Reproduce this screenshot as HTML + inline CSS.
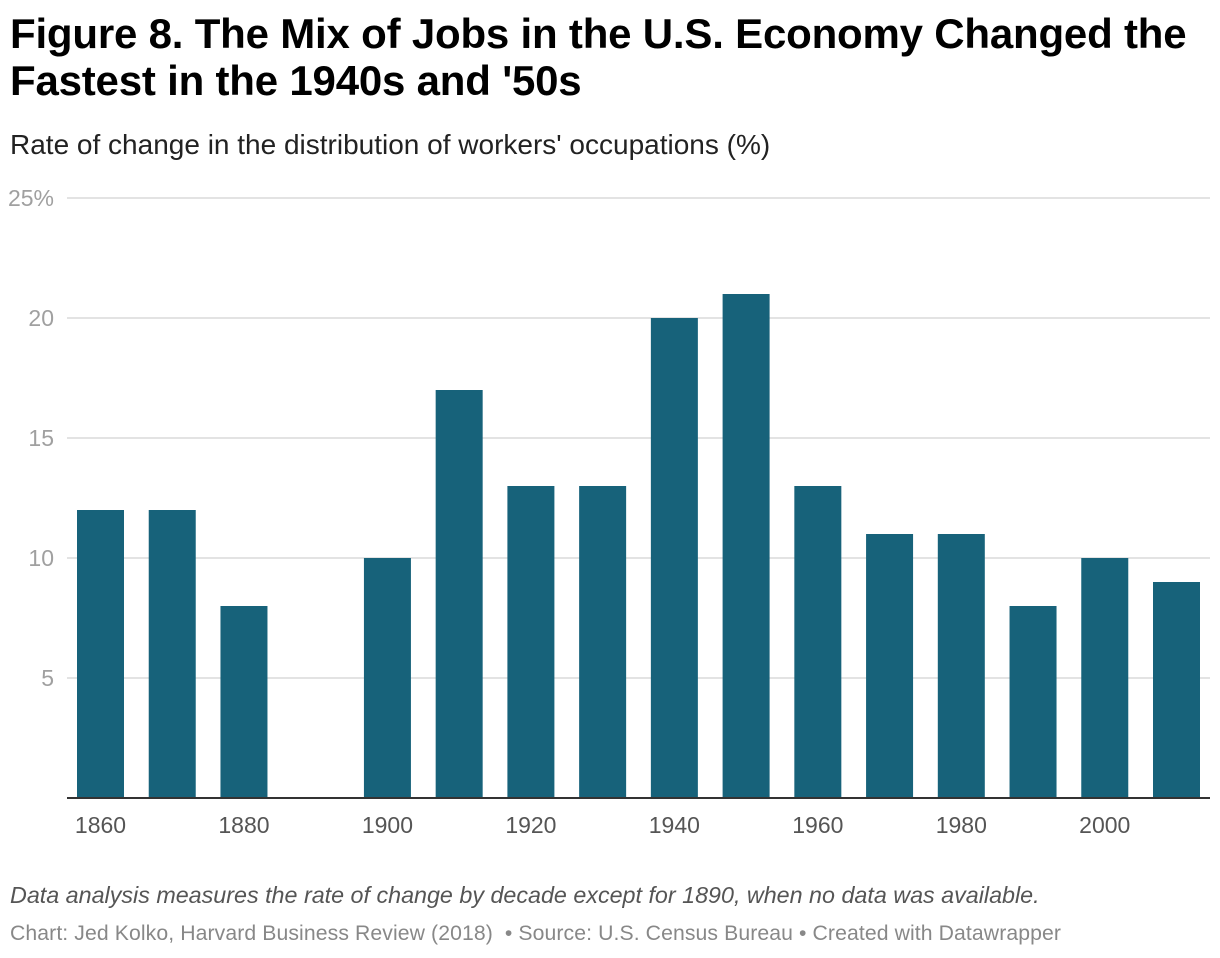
<!DOCTYPE html>
<html><head><meta charset="utf-8">
<style>
body{margin:0;background:#fff;width:1220px;height:958px;overflow:hidden;font-family:"Liberation Sans",sans-serif;}
#title{position:absolute;left:10px;top:10px;font-size:42px;font-weight:bold;line-height:47px;color:#000;margin:0;letter-spacing:-0.2px}
#sub{position:absolute;left:10px;top:129px;font-size:28px;color:#222}
#note{position:absolute;left:10px;top:882px;font-size:23.3px;font-style:italic;color:#555}
#cred{position:absolute;left:10px;top:922px;font-size:21.2px;color:#888;letter-spacing:0.1px}
svg{position:absolute;left:0;top:0}
</style></head><body>
<h1 id="title">Figure 8. The Mix of Jobs in the U.S. Economy Changed the<br>Fastest in the 1940s and '50s</h1>
<div id="sub">Rate of change in the distribution of workers' occupations (%)</div>
<svg id="chart" width="1220" height="958"></svg>
<div id="note">Data analysis measures the rate of change by decade except for 1890, when no data was available.</div>
<div id="cred">Chart: Jed Kolko, Harvard Business Review (2018) &nbsp;• Source: U.S. Census Bureau • Created with Datawrapper</div>
<script>
const years=[1860,1870,1880,1890,1900,1910,1920,1930,1940,1950,1960,1970,1980,1990,2000,2010];
const values=[12,12,8,null,10,17,13,13,20,21,13,11,11,8,10,9];
const yTicks=[5,10,15,20,25];
const xTickLabels=[1860,1880,1900,1920,1940,1960,1980,2000];
const svg=document.getElementById('chart');
const NS='http://www.w3.org/2000/svg';
const y0=798,pxPer=24,left=67,right=1210;
const y=v=>y0-v*pxPer;
const step=(1176.5-100.5)/(years.length-1);
const x=yr=>100.5+(yr-years[0])/10*step;
const bw=47;
function mk(t,a){const e=document.createElementNS(NS,t);for(const k in a)e.setAttribute(k,a[k]);svg.appendChild(e);return e;}
yTicks.forEach(t=>{
  const g=mk('line',{x1:left,x2:right,y1:y(t),y2:y(t),stroke:'#e3e3e3','stroke-width':2});
  
  
  const l=mk('text',{x:54,y:y(t)+8,'text-anchor':'end','font-size':23,fill:'#a0a0a0','font-family':'Liberation Sans, sans-serif'});
  l.textContent=t===25?'25%':t;
  
  
});
years.forEach((yr,i)=>{
  if(values[i]==null)return;
  const r=mk('rect',{x:x(yr)-bw/2,y:y(values[i]),width:bw,height:values[i]*pxPer,fill:'#17627a'});
  
  
});
const b=mk('line',{x1:left,x2:right,y1:y0,y2:y0,stroke:'#333','stroke-width':2});


xTickLabels.forEach(yr=>{
  const l=mk('text',{x:x(yr),y:833,'text-anchor':'middle','font-size':23,fill:'#555','font-family':'Liberation Sans, sans-serif'});
  l.textContent=yr;
  
  
});
</script>
</body></html>
